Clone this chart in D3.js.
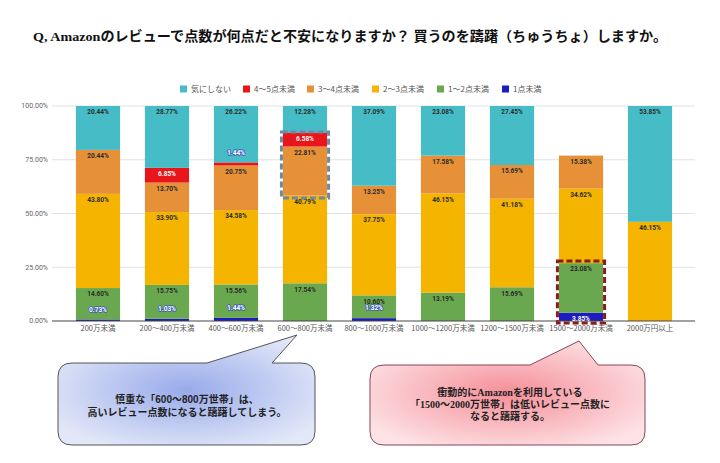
<!DOCTYPE html>
<html><head><meta charset="utf-8">
<script src="https://cdn.jsdelivr.net/npm/d3@7/dist/d3.min.js"></script>
<style>
html,body{margin:0;padding:0;background:#fff;}
svg{display:block;}
</style></head>
<body>
<svg id="c" width="720" height="463"></svg>
<script>
const categories = ["200万未満","200〜400万未満","400〜600万未満","600〜800万未満","800〜1000万未満","1000〜1200万未満","1200〜1500万未満","1500〜2000万未満","2000万円以上"];
// stacked bottom -> top
const seriesNames = ["1点未満","1〜2点未満","2〜3点未満","3〜4点未満","4〜5点未満","気にしない"];
const s1 = [0.73, 1.03, 1.44, 0, 1.32, 0, 0, 3.85, 0];
const s2 = [14.60, 15.75, 15.56, 17.54, 10.60, 13.19, 15.69, 23.08, 0];
const s3 = [43.80, 33.90, 34.58, 40.79, 37.75, 46.15, 41.18, 34.62, 46.15];
const s4 = [20.44, 13.70, 20.75, 22.81, 13.25, 17.58, 15.69, 15.38, 0];
const s5 = [0, 6.85, 1.44, 6.58, 0, 0, 0, 0, 0];
const s6 = [20.44, 28.77, 26.22, 12.28, 37.09, 23.08, 27.45, 0, 53.85];
const seriesValues = [s1, s2, s3, s4, s5, s6];
const colors = ["#1c1cc0","#6aa84f","#f4b400","#e69138","#e8161b","#46bdc6"];
const legendOrder = [5,4,3,2,1,0];
const yTicks = [0, 25, 50, 75, 100];

const svg = d3.select("#c");
const defs = svg.append("defs");

// title
svg.append("text").attr("x", 33).attr("y", 41)
  .attr("font-family", "'Liberation Serif','Noto Sans CJK JP',serif")
  .attr("font-weight", "bold").attr("font-size", 13.5).attr("fill", "#111")
  .attr("textLength", 634).attr("lengthAdjust", "spacingAndGlyphs")
  .text("Q, Amazonのレビューで点数が何点だと不安になりますか？ 買うのを躊躇（ちゅうちょ）しますか。");

const x = d3.scaleBand().domain(categories).range([63.5, 684.5]).paddingInner(0.36).paddingOuter(0.18);
const y = d3.scaleLinear().domain([0, 100]).range([321, 106]);

// grid
svg.append("g").selectAll("line").data(yTicks.slice(1)).join("line")
  .attr("x1", 52).attr("x2", 695).attr("y1", d => y(d)).attr("y2", d => y(d))
  .attr("stroke", "#e2e2e2").attr("stroke-width", 1);

// y labels
svg.append("g").selectAll("text").data(yTicks).join("text")
  .attr("x", 48).attr("y", d => y(d)).attr("dy", "0.35em")
  .attr("text-anchor", "end").attr("font-family", "Roboto, 'Noto Sans', sans-serif")
  .attr("font-size", 7).attr("fill", "#666").text(d => d.toFixed(2) + "%");

// stack
const rows = categories.map((c, i) => {
  const o = { cat: c };
  seriesNames.forEach((s, k) => o[s] = seriesValues[k][i]);
  return o;
});
const stack = d3.stack().keys(seriesNames)(rows);

const gBars = svg.append("g");
stack.forEach((layer, k) => {
  gBars.append("g").attr("fill", colors[k]).selectAll("rect").data(layer).join("rect")
    .attr("x", d => x(d.data.cat)).attr("width", x.bandwidth())
    .attr("y", d => y(d[1])).attr("height", d => Math.max(0, y(d[0]) - y(d[1])));
});

// axis line
svg.append("line").attr("x1", 52).attr("x2", 695).attr("y1", y(0)).attr("y2", y(0))
  .attr("stroke", "#444").attr("stroke-width", 1);

// x labels
svg.append("g").selectAll("text").data(categories).join("text")
  .attr("x", d => x(d) + x.bandwidth() / 2).attr("y", 331)
  .attr("text-anchor", "middle").attr("font-family", "'Noto Sans CJK JP', sans-serif")
  .attr("font-size", 7.5).attr("fill", "#555").text(d => d);

// data labels
const gLab = svg.append("g").attr("font-family", "Roboto, 'Noto Sans', sans-serif")
  .attr("font-size", 6.5).attr("font-weight", "bold").attr("text-anchor", "middle");
stack.forEach((layer, k) => {
  layer.forEach(d => {
    const v = d[1] - d[0];
    if (v <= 0) return;
    const cx = x(d.data.cat) + x.bandwidth() / 2;
    const small = v < 2;
    const onDark = (k === 0 || k === 4);
    const t = gLab.append("text").attr("x", cx)
      .attr("y", small ? y(d[1]) - 10 : y(d[1]) + 6)
      .attr("dy", "0.35em").text(v.toFixed(2) + "%");
    if (small) {
      t.attr("fill", "#fff").attr("stroke", "#3a5ab8").attr("stroke-width", 1.6)
        .attr("paint-order", "stroke").attr("stroke-linejoin", "round");
    } else {
      t.attr("fill", onDark ? "#fff" : "#2a2a2a");
    }
  });
});

// highlight boxes
const c4 = categories[3], c8 = categories[7];
svg.append("rect")
  .attr("x", x(c4) - 1.5).attr("width", x.bandwidth() + 3)
  .attr("y", y(stack[4][3][1]) - 0.5)
  .attr("height", y(stack[3][3][0]) - y(stack[4][3][1]) + 3)
  .attr("fill", "none").attr("stroke", "#6d8aa3").attr("stroke-width", 3)
  .attr("stroke-dasharray", "6,3");
svg.append("rect")
  .attr("x", x(c8) - 1.5).attr("width", x.bandwidth() + 3)
  .attr("y", y(stack[1][7][1]) - 2)
  .attr("height", y(0) - y(stack[1][7][1]) + 4)
  .attr("fill", "none").attr("stroke", "#8b1a1a").attr("stroke-width", 3)
  .attr("stroke-dasharray", "6,3");

// legend
const legX = [180, 243, 307, 372, 437, 502];
const gLeg = svg.append("g");
legendOrder.forEach((k, i) => {
  gLeg.append("rect").attr("x", legX[i]).attr("y", 85.5).attr("width", 7).attr("height", 7).attr("fill", colors[k]);
  gLeg.append("text").attr("x", legX[i] + 11).attr("y", 89).attr("dy", "0.35em")
    .attr("font-family", "'Noto Sans CJK JP', sans-serif").attr("font-size", 8).attr("fill", "#555")
    .text(seriesNames[k]);
});

// callouts
function grad(id, inner, outer) {
  const g = defs.append("radialGradient").attr("id", id).attr("cx", "50%").attr("cy", "50%").attr("r", "60%");
  g.append("stop").attr("offset", "0%").attr("stop-color", inner);
  g.append("stop").attr("offset", "100%").attr("stop-color", outer);
}
grad("gb", "#98aaea", "#e3e8f8");
grad("gr", "#f58e98", "#fde3e6");

function callout(x0, y0, x1, y1, r, ta, tb, apx, apy) {
  return `M${x0 + r},${y0} L${ta},${y0} L${apx},${apy} L${tb},${y0} L${x1 - r},${y0} Q${x1},${y0} ${x1},${y0 + r} L${x1},${y1 - r} Q${x1},${y1} ${x1 - r},${y1} L${x0 + r},${y1} Q${x0},${y1} ${x0},${y1 - r} L${x0},${y0 + r} Q${x0},${y0} ${x0 + r},${y0} Z`;
}
const apexB = x(c4) + x.bandwidth() / 2 - 8;
const apexR = x(c8) + x.bandwidth() / 2 - 2;
svg.append("path").attr("d", callout(58, 363, 315, 445, 14, 207, 272, apexB, 335))
  .attr("fill", "url(#gb)").attr("stroke", "#555").attr("stroke-width", 1);
svg.append("path").attr("d", callout(370, 365, 645, 445, 14, 530, 598, apexR, 341))
  .attr("fill", "url(#gr)").attr("stroke", "#8a4556").attr("stroke-width", 1);

const cf = "'Liberation Serif','Noto Sans CJK JP',serif";
const blueLines = ["慎重な「600〜800万世帯」は、", "高いレビュー点数になると躊躇してしまう。"];
svg.append("g").selectAll("text").data(blueLines).join("text")
  .attr("x", 187).attr("y", (d, i) => 403 + i * 13).attr("text-anchor", "middle")
  .attr("font-family", "'Liberation Sans','Noto Sans CJK JP',sans-serif").attr("font-weight", "bold")
  .attr("font-size", 10).attr("fill", "#222").text(d => d);
const redLines = ["衝動的にAmazonを利用している", "「1500〜2000万世帯」は低いレビュー点数に", "なると躊躇する。"];
svg.append("g").selectAll("text").data(redLines).join("text")
  .attr("x", 510).attr("y", (d, i) => 396 + i * 11.8).attr("text-anchor", "middle")
  .attr("font-family", cf).attr("font-weight", "bold")
  .attr("font-size", 10).attr("fill", "#222").text(d => d);
</script>
</body></html>
